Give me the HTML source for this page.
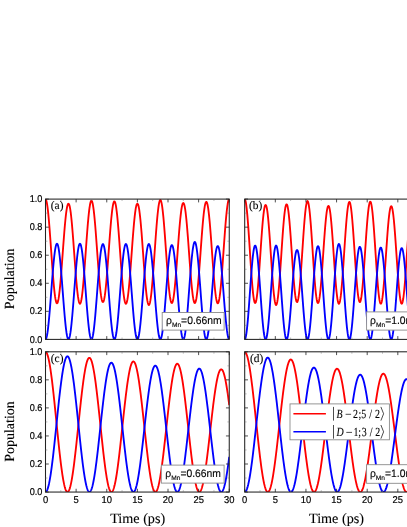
<!DOCTYPE html>
<html><head><meta charset="utf-8"><title>Population dynamics</title><style>
html,body{margin:0;padding:0;background:#fff;}
body{width:407px;height:527px;overflow:hidden;}
svg{display:block;will-change:transform;text-rendering:geometricPrecision;}
text{font-family:"Liberation Sans",sans-serif;fill:#000;stroke:#000;stroke-width:0.2px;}
.s{font-family:"Liberation Serif",serif;stroke-width:0.1px;}
.r{stroke-width:0.12px;}
</style></head><body>
<svg width="407" height="527" viewBox="0 0 407 527">
<rect width="407" height="527" fill="#fff"/>

<clipPath id="ca"><rect x="45.5" y="199.1" width="183.75" height="140.29999999999998"/></clipPath>
<g clip-path="url(#ca)" fill="none" stroke-width="1.85" stroke-linejoin="round">
<path d="M45.50,199.10 L45.88,199.46 L46.27,200.39 L46.65,201.88 L47.03,203.90 L47.41,206.44 L47.80,209.47 L48.18,212.96 L48.56,216.86 L48.95,221.14 L49.33,225.74 L49.71,230.62 L50.09,235.72 L50.48,240.99 L50.86,246.37 L51.24,251.80 L51.62,257.22 L52.01,262.58 L52.39,267.81 L52.77,272.86 L53.16,277.67 L53.54,282.19 L53.92,286.38 L54.30,290.18 L54.69,293.57 L55.07,296.49 L55.45,298.92 L55.84,300.84 L56.22,302.23 L56.60,303.06 L56.98,303.34 L57.37,303.07 L57.75,302.24 L58.13,300.87 L58.52,298.98 L58.90,296.57 L59.28,293.69 L59.66,290.36 L60.05,286.63 L60.43,282.53 L60.81,278.11 L61.20,273.41 L61.58,268.50 L61.96,263.43 L62.34,258.24 L62.73,253.01 L63.11,247.78 L63.49,242.62 L63.88,237.58 L64.26,232.72 L64.64,228.09 L65.02,223.74 L65.41,219.72 L65.79,216.07 L66.17,212.84 L66.55,210.05 L66.94,207.75 L67.32,205.95 L67.70,204.67 L68.09,203.93 L68.47,203.73 L68.85,203.95 L69.23,204.72 L69.62,206.02 L70.00,207.85 L70.38,210.18 L70.77,212.99 L71.15,216.24 L71.53,219.91 L71.91,223.95 L72.30,228.32 L72.68,232.97 L73.06,237.84 L73.45,242.90 L73.83,248.07 L74.21,253.31 L74.59,258.55 L74.98,263.74 L75.36,268.83 L75.74,273.75 L76.12,278.45 L76.51,282.87 L76.89,286.98 L77.27,290.72 L77.66,294.06 L78.04,296.94 L78.42,299.35 L78.80,301.26 L79.19,302.64 L79.57,303.48 L79.95,303.76 L80.34,303.46 L80.72,302.60 L81.10,301.19 L81.48,299.26 L81.87,296.81 L82.25,293.88 L82.63,290.50 L83.02,286.70 L83.40,282.53 L83.78,278.03 L84.16,273.25 L84.55,268.24 L84.93,263.05 L85.31,257.74 L85.70,252.38 L86.08,247.01 L86.46,241.70 L86.84,236.50 L87.23,231.47 L87.61,226.67 L87.99,222.14 L88.38,217.94 L88.76,214.12 L89.14,210.71 L89.52,207.74 L89.91,205.27 L90.29,203.30 L90.67,201.86 L91.05,200.97 L91.44,200.64 L91.82,200.94 L92.20,201.78 L92.59,203.18 L92.97,205.10 L93.35,207.54 L93.73,210.46 L94.12,213.82 L94.50,217.60 L94.88,221.76 L95.27,226.23 L95.65,230.98 L96.03,235.96 L96.41,241.10 L96.80,246.35 L97.18,251.66 L97.56,256.96 L97.95,262.21 L98.33,267.33 L98.71,272.27 L99.09,276.99 L99.48,281.42 L99.86,285.53 L100.24,289.26 L100.62,292.57 L101.01,295.44 L101.39,297.82 L101.77,299.69 L102.16,301.03 L102.54,301.83 L102.92,302.08 L103.30,301.83 L103.69,301.03 L104.07,299.69 L104.45,297.82 L104.84,295.44 L105.22,292.59 L105.60,289.28 L105.98,285.56 L106.37,281.47 L106.75,277.05 L107.13,272.35 L107.52,267.42 L107.90,262.33 L108.28,257.11 L108.66,251.84 L109.05,246.56 L109.43,241.34 L109.81,236.23 L110.20,231.29 L110.58,226.58 L110.96,222.15 L111.34,218.03 L111.73,214.29 L112.11,210.97 L112.49,208.09 L112.88,205.69 L113.26,203.79 L113.64,202.43 L114.02,201.61 L114.41,201.34 L114.79,201.66 L115.17,202.53 L115.55,203.95 L115.94,205.89 L116.32,208.34 L116.70,211.28 L117.09,214.66 L117.47,218.45 L117.85,222.62 L118.23,227.11 L118.62,231.87 L119.00,236.87 L119.38,242.03 L119.77,247.31 L120.15,252.64 L120.53,257.97 L120.91,263.25 L121.30,268.41 L121.68,273.39 L122.06,278.15 L122.45,282.63 L122.83,286.78 L123.21,290.56 L123.59,293.92 L123.98,296.84 L124.36,299.27 L124.74,301.20 L125.12,302.60 L125.51,303.46 L125.89,303.76 L126.27,303.51 L126.66,302.70 L127.04,301.35 L127.42,299.48 L127.80,297.09 L128.19,294.23 L128.57,290.93 L128.95,287.21 L129.34,283.12 L129.72,278.71 L130.10,274.03 L130.48,269.12 L130.87,264.04 L131.25,258.85 L131.63,253.61 L132.02,248.36 L132.40,243.18 L132.78,238.11 L133.16,233.21 L133.55,228.55 L133.93,224.15 L134.31,220.09 L134.70,216.40 L135.08,213.11 L135.46,210.28 L135.84,207.93 L136.23,206.08 L136.61,204.75 L136.99,203.97 L137.38,203.73 L137.76,203.94 L138.14,204.71 L138.52,206.01 L138.91,207.84 L139.29,210.19 L139.67,213.01 L140.05,216.29 L140.44,219.99 L140.82,224.07 L141.20,228.48 L141.59,233.17 L141.97,238.10 L142.35,243.21 L142.73,248.45 L143.12,253.75 L143.50,259.06 L143.88,264.32 L144.27,269.47 L144.65,274.46 L145.03,279.23 L145.41,283.72 L145.80,287.90 L146.18,291.70 L146.56,295.09 L146.95,298.04 L147.33,300.50 L147.71,302.44 L148.09,303.86 L148.48,304.72 L148.86,305.03 L149.24,304.71 L149.62,303.83 L150.01,302.40 L150.39,300.43 L150.77,297.94 L151.16,294.96 L151.54,291.52 L151.92,287.65 L152.30,283.41 L152.69,278.83 L153.07,273.96 L153.45,268.86 L153.84,263.58 L154.22,258.18 L154.60,252.71 L154.98,247.25 L155.37,241.84 L155.75,236.54 L156.13,231.42 L156.52,226.52 L156.90,221.91 L157.28,217.63 L157.66,213.73 L158.05,210.24 L158.43,207.22 L158.81,204.69 L159.20,202.68 L159.58,201.20 L159.96,200.29 L160.34,199.94 L160.73,200.28 L161.11,201.18 L161.49,202.64 L161.88,204.63 L162.26,207.14 L162.64,210.14 L163.02,213.60 L163.41,217.46 L163.79,221.70 L164.17,226.27 L164.55,231.11 L164.94,236.18 L165.32,241.41 L165.70,246.74 L166.09,252.13 L166.47,257.51 L166.85,262.83 L167.23,268.01 L167.62,273.02 L168.00,277.78 L168.38,282.26 L168.77,286.41 L169.15,290.17 L169.53,293.51 L169.91,296.39 L170.30,298.79 L170.68,300.67 L171.06,302.02 L171.45,302.82 L171.83,303.06 L172.21,302.78 L172.59,301.95 L172.98,300.58 L173.36,298.68 L173.74,296.28 L174.12,293.39 L174.51,290.06 L174.89,286.33 L175.27,282.22 L175.66,277.80 L176.04,273.10 L176.42,268.18 L176.80,263.10 L177.19,257.91 L177.57,252.66 L177.95,247.42 L178.34,242.24 L178.72,237.19 L179.10,232.30 L179.48,227.65 L179.87,223.28 L180.25,219.23 L180.63,215.56 L181.02,212.30 L181.40,209.49 L181.78,207.16 L182.16,205.33 L182.55,204.02 L182.93,203.25 L183.31,203.03 L183.70,203.28 L184.08,204.08 L184.46,205.42 L184.84,207.28 L185.23,209.64 L185.61,212.48 L185.99,215.76 L186.38,219.45 L186.76,223.51 L187.14,227.90 L187.52,232.56 L187.91,237.44 L188.29,242.50 L188.67,247.67 L189.05,252.91 L189.44,258.14 L189.82,263.32 L190.20,268.39 L190.59,273.28 L190.97,277.96 L191.35,282.36 L191.73,286.45 L192.12,290.16 L192.50,293.47 L192.88,296.33 L193.27,298.72 L193.65,300.60 L194.03,301.96 L194.41,302.79 L194.80,303.06 L195.18,302.79 L195.56,301.97 L195.95,300.61 L196.33,298.73 L196.71,296.34 L197.09,293.47 L197.48,290.15 L197.86,286.43 L198.24,282.33 L198.62,277.90 L199.01,273.20 L199.39,268.27 L199.77,263.16 L200.16,257.94 L200.54,252.66 L200.92,247.38 L201.30,242.15 L201.69,237.03 L202.07,232.08 L202.45,227.36 L202.84,222.91 L203.22,218.78 L203.60,215.03 L203.98,211.68 L204.37,208.78 L204.75,206.36 L205.13,204.44 L205.52,203.05 L205.90,202.20 L206.28,201.91 L206.66,202.14 L207.05,202.92 L207.43,204.25 L207.81,206.11 L208.20,208.47 L208.58,211.33 L208.96,214.63 L209.34,218.36 L209.73,222.46 L210.11,226.89 L210.49,231.61 L210.88,236.56 L211.26,241.68 L211.64,246.93 L212.02,252.24 L212.41,257.55 L212.79,262.82 L213.17,267.97 L213.55,272.95 L213.94,277.71 L214.32,282.20 L214.70,286.36 L215.09,290.15 L215.47,293.52 L215.85,296.45 L216.23,298.89 L216.62,300.82 L217.00,302.21 L217.38,303.06 L217.77,303.34 L218.15,303.07 L218.53,302.23 L218.91,300.84 L219.30,298.91 L219.68,296.46 L220.06,293.52 L220.45,290.12 L220.83,286.30 L221.21,282.09 L221.59,277.55 L221.98,272.72 L222.36,267.66 L222.74,262.41 L223.12,257.04 L223.51,251.61 L223.89,246.17 L224.27,240.78 L224.66,235.51 L225.04,230.41 L225.42,225.53 L225.80,220.94 L226.19,216.67 L226.57,212.79 L226.95,209.32 L227.34,206.31 L227.72,203.79 L228.10,201.79 L228.48,200.33 L228.87,199.43 L229.25,199.10" stroke="#ff0000"/>
<path d="M45.50,339.40 L45.88,339.14 L46.27,338.35 L46.65,337.06 L47.03,335.26 L47.41,332.99 L47.80,330.26 L48.18,327.11 L48.56,323.57 L48.95,319.68 L49.33,315.48 L49.71,311.02 L50.09,306.34 L50.48,301.50 L50.86,296.56 L51.24,291.56 L51.62,286.56 L52.01,281.61 L52.39,276.77 L52.77,272.10 L53.16,267.64 L53.54,263.44 L53.92,259.54 L54.30,256.00 L54.69,252.85 L55.07,250.13 L55.45,247.85 L55.84,246.06 L56.22,244.76 L56.60,243.98 L56.98,243.72 L57.37,243.98 L57.75,244.76 L58.13,246.06 L58.52,247.85 L58.90,250.13 L59.28,252.85 L59.66,256.00 L60.05,259.54 L60.43,263.44 L60.81,267.64 L61.20,272.10 L61.58,276.77 L61.96,281.61 L62.34,286.56 L62.73,291.56 L63.11,296.56 L63.49,301.50 L63.88,306.34 L64.26,311.02 L64.64,315.48 L65.02,319.68 L65.41,323.57 L65.79,327.11 L66.17,330.26 L66.55,332.99 L66.94,335.26 L67.32,337.06 L67.70,338.35 L68.09,339.14 L68.47,339.40 L68.85,339.14 L69.23,338.35 L69.62,337.06 L70.00,335.26 L70.38,332.99 L70.77,330.26 L71.15,327.11 L71.53,323.57 L71.91,319.68 L72.30,315.48 L72.68,311.02 L73.06,306.34 L73.45,301.50 L73.83,296.56 L74.21,291.56 L74.59,286.56 L74.98,281.61 L75.36,276.77 L75.74,272.10 L76.12,267.64 L76.51,263.44 L76.89,259.54 L77.27,256.00 L77.66,252.85 L78.04,250.13 L78.42,247.85 L78.80,246.06 L79.19,244.76 L79.57,243.98 L79.95,243.72 L80.34,243.98 L80.72,244.77 L81.10,246.08 L81.48,247.88 L81.87,250.16 L82.25,252.89 L82.63,256.05 L83.02,259.59 L83.40,263.49 L83.78,267.69 L84.16,272.15 L84.55,276.83 L84.93,281.67 L85.31,286.61 L85.70,291.61 L86.08,296.61 L86.46,301.55 L86.84,306.39 L87.23,311.06 L87.61,315.51 L87.99,319.71 L88.38,323.60 L88.76,327.13 L89.14,330.28 L89.52,333.00 L89.91,335.27 L90.29,337.06 L90.67,338.36 L91.05,339.14 L91.44,339.40 L91.82,339.14 L92.20,338.36 L92.59,337.06 L92.97,335.27 L93.35,333.01 L93.73,330.29 L94.12,327.14 L94.50,323.61 L94.88,319.74 L95.27,315.55 L95.65,311.10 L96.03,306.44 L96.41,301.62 L96.80,296.70 L97.18,291.72 L97.56,286.74 L97.95,281.81 L98.33,276.99 L98.71,272.34 L99.09,267.90 L99.48,263.72 L99.86,259.85 L100.24,256.33 L100.62,253.20 L101.01,250.49 L101.39,248.23 L101.77,246.45 L102.16,245.16 L102.54,244.39 L102.92,244.14 L103.30,244.39 L103.69,245.17 L104.07,246.46 L104.45,248.25 L104.84,250.51 L105.22,253.22 L105.60,256.36 L105.98,259.88 L106.37,263.75 L106.75,267.93 L107.13,272.38 L107.52,277.03 L107.90,281.85 L108.28,286.77 L108.66,291.75 L109.05,296.73 L109.43,301.66 L109.81,306.47 L110.20,311.13 L110.58,315.57 L110.96,319.76 L111.34,323.63 L111.73,327.16 L112.11,330.30 L112.49,333.01 L112.88,335.28 L113.26,337.07 L113.64,338.36 L114.02,339.14 L114.41,339.40 L114.79,339.14 L115.17,338.36 L115.55,337.07 L115.94,335.28 L116.32,333.01 L116.70,330.30 L117.09,327.15 L117.47,323.63 L117.85,319.75 L118.23,315.56 L118.62,311.11 L119.00,306.45 L119.38,301.63 L119.77,296.70 L120.15,291.72 L120.53,286.73 L120.91,281.80 L121.30,276.98 L121.68,272.31 L122.06,267.86 L122.45,263.68 L122.83,259.79 L123.21,256.26 L123.59,253.12 L123.98,250.40 L124.36,248.13 L124.74,246.34 L125.12,245.04 L125.51,244.26 L125.89,244.00 L126.27,244.26 L126.66,245.04 L127.04,246.33 L127.42,248.12 L127.80,250.39 L128.19,253.11 L128.57,256.25 L128.95,259.78 L129.34,263.66 L129.72,267.85 L130.10,272.30 L130.48,276.96 L130.87,281.78 L131.25,286.71 L131.63,291.70 L132.02,296.68 L132.40,301.62 L132.78,306.44 L133.16,311.10 L133.55,315.55 L133.93,319.74 L134.31,323.62 L134.70,327.15 L135.08,330.29 L135.46,333.01 L135.84,335.28 L136.23,337.07 L136.61,338.36 L136.99,339.14 L137.38,339.40 L137.76,339.14 L138.14,338.36 L138.52,337.07 L138.91,335.28 L139.29,333.01 L139.67,330.29 L140.05,327.15 L140.44,323.62 L140.82,319.74 L141.20,315.55 L141.59,311.10 L141.97,306.44 L142.35,301.62 L142.73,296.68 L143.12,291.70 L143.50,286.71 L143.88,281.78 L144.27,276.96 L144.65,272.30 L145.03,267.85 L145.41,263.66 L145.80,259.78 L146.18,256.25 L146.56,253.11 L146.95,250.39 L147.33,248.12 L147.71,246.33 L148.09,245.04 L148.48,244.26 L148.86,244.00 L149.24,244.28 L149.62,245.08 L150.01,246.39 L150.39,248.19 L150.77,250.47 L151.16,253.21 L151.54,256.36 L151.92,259.90 L152.30,263.79 L152.69,267.99 L153.07,272.44 L153.45,277.10 L153.84,281.93 L154.22,286.86 L154.60,291.84 L154.98,296.82 L155.37,301.74 L155.75,306.56 L156.13,311.21 L156.52,315.64 L156.90,319.82 L157.28,323.68 L157.66,327.20 L158.05,330.33 L158.43,333.04 L158.81,335.30 L159.20,337.08 L159.58,338.36 L159.96,339.14 L160.34,339.40 L160.73,339.14 L161.11,338.36 L161.49,337.08 L161.88,335.30 L162.26,333.05 L162.64,330.35 L163.02,327.24 L163.41,323.73 L163.79,319.89 L164.17,315.74 L164.55,311.33 L164.94,306.71 L165.32,301.93 L165.70,297.05 L166.09,292.12 L166.47,287.19 L166.85,282.31 L167.23,277.54 L167.62,272.94 L168.00,268.55 L168.38,264.42 L168.77,260.59 L169.15,257.11 L169.53,254.02 L169.91,251.35 L170.30,249.12 L170.68,247.37 L171.06,246.11 L171.45,245.36 L171.83,245.12 L172.21,245.32 L172.59,246.04 L172.98,247.27 L173.36,248.99 L173.74,251.18 L174.12,253.83 L174.51,256.90 L174.89,260.36 L175.27,264.17 L175.66,268.29 L176.04,272.67 L176.42,277.27 L176.80,282.04 L177.19,286.92 L177.57,291.86 L177.95,296.80 L178.34,301.70 L178.72,306.49 L179.10,311.13 L179.48,315.56 L179.87,319.74 L180.25,323.61 L180.63,327.13 L181.02,330.27 L181.40,332.99 L181.78,335.26 L182.16,337.06 L182.55,338.35 L182.93,339.14 L183.31,339.40 L183.70,339.14 L184.08,338.35 L184.46,337.05 L184.84,335.25 L185.23,332.96 L185.61,330.21 L185.99,327.04 L186.38,323.46 L186.76,319.54 L187.14,315.29 L187.52,310.78 L187.91,306.05 L188.29,301.14 L188.67,296.13 L189.05,291.05 L189.44,285.97 L189.82,280.93 L190.20,276.00 L190.59,271.23 L190.97,266.67 L191.35,262.37 L191.73,258.38 L192.12,254.74 L192.50,251.49 L192.88,248.67 L193.27,246.31 L193.65,244.44 L194.03,243.06 L194.41,242.21 L194.80,241.89 L195.18,242.23 L195.56,243.10 L195.95,244.48 L196.33,246.37 L196.71,248.75 L197.09,251.58 L197.48,254.84 L197.86,258.49 L198.24,262.49 L198.62,266.79 L199.01,271.36 L199.39,276.13 L199.77,281.06 L200.16,286.09 L200.54,291.17 L200.92,296.24 L201.30,301.25 L201.69,306.15 L202.07,310.87 L202.45,315.37 L202.84,319.61 L203.22,323.52 L203.60,327.08 L203.98,330.25 L204.37,332.99 L204.75,335.26 L205.13,337.06 L205.52,338.36 L205.90,339.14 L206.28,339.40 L206.66,339.14 L207.05,338.36 L207.43,337.07 L207.81,335.29 L208.20,333.03 L208.58,330.33 L208.96,327.21 L209.34,323.71 L209.73,319.87 L210.11,315.72 L210.49,311.33 L210.88,306.73 L211.26,301.98 L211.64,297.12 L212.02,292.22 L212.41,287.33 L212.79,282.50 L213.17,277.78 L213.55,273.23 L213.94,268.90 L214.32,264.83 L214.70,261.07 L215.09,257.65 L215.47,254.63 L215.85,252.02 L216.23,249.87 L216.62,248.18 L217.00,246.98 L217.38,246.29 L217.77,246.10 L218.15,246.34 L218.53,247.10 L218.91,248.35 L219.30,250.09 L219.68,252.30 L220.06,254.95 L220.45,258.01 L220.83,261.46 L221.21,265.25 L221.59,269.34 L221.98,273.69 L222.36,278.24 L222.74,282.96 L223.12,287.78 L223.51,292.66 L223.89,297.54 L224.27,302.37 L224.66,307.09 L225.04,311.66 L225.42,316.02 L225.80,320.12 L226.19,323.92 L226.57,327.38 L226.95,330.46 L227.34,333.13 L227.72,335.35 L228.10,337.11 L228.48,338.38 L228.87,339.14 L229.25,339.40" stroke="#0000ff"/>
</g>
<rect x="45.5" y="199.1" width="183.75" height="140.30" fill="none" stroke="#222" stroke-width="1.05"/>
<path d="M45.50,199.1 v3.3 M45.50,339.4 v-3.3 M76.12,199.1 v3.3 M76.12,339.4 v-3.3 M106.75,199.1 v3.3 M106.75,339.4 v-3.3 M137.38,199.1 v3.3 M137.38,339.4 v-3.3 M168.00,199.1 v3.3 M168.00,339.4 v-3.3 M198.62,199.1 v3.3 M198.62,339.4 v-3.3 M229.25,199.1 v3.3 M229.25,339.4 v-3.3 M45.5,339.40 h3.3 M229.25,339.40 h-3.3 M45.5,311.34 h3.3 M229.25,311.34 h-3.3 M45.5,283.28 h3.3 M229.25,283.28 h-3.3 M45.5,255.22 h3.3 M229.25,255.22 h-3.3 M45.5,227.16 h3.3 M229.25,227.16 h-3.3 M45.5,199.10 h3.3 M229.25,199.10 h-3.3" stroke="#222" stroke-width="0.8" fill="none"/>
<path d="M60.81,199.1 v1.9 M60.81,339.4 v-1.9 M91.44,199.1 v1.9 M91.44,339.4 v-1.9 M122.06,199.1 v1.9 M122.06,339.4 v-1.9 M152.69,199.1 v1.9 M152.69,339.4 v-1.9 M183.31,199.1 v1.9 M183.31,339.4 v-1.9 M213.94,199.1 v1.9 M213.94,339.4 v-1.9 M45.5,325.37 h1.9 M229.25,325.37 h-1.9 M45.5,297.31 h1.9 M229.25,297.31 h-1.9 M45.5,269.25 h1.9 M229.25,269.25 h-1.9 M45.5,241.19 h1.9 M229.25,241.19 h-1.9 M45.5,213.13 h1.9 M229.25,213.13 h-1.9" stroke="#777" stroke-width="0.5" fill="none"/>
<text class="s" x="50.80" y="209.40" font-size="11.4">(a)</text>
<text transform="translate(42.40,342.50) scale(0.925,1)" font-size="9.9" text-anchor="end">0.0</text>
<text transform="translate(42.40,314.44) scale(0.925,1)" font-size="9.9" text-anchor="end">0.2</text>
<text transform="translate(42.40,286.38) scale(0.925,1)" font-size="9.9" text-anchor="end">0.4</text>
<text transform="translate(42.40,258.32) scale(0.925,1)" font-size="9.9" text-anchor="end">0.6</text>
<text transform="translate(42.40,230.26) scale(0.925,1)" font-size="9.9" text-anchor="end">0.8</text>
<text transform="translate(42.40,202.20) scale(0.925,1)" font-size="9.9" text-anchor="end">1.0</text>
<clipPath id="cb"><rect x="244.7" y="199.1" width="183.75" height="140.29999999999998"/></clipPath>
<g clip-path="url(#cb)" fill="none" stroke-width="1.85" stroke-linejoin="round">
<path d="M244.70,199.10 L245.08,199.55 L245.47,200.68 L245.85,202.47 L246.23,204.90 L246.61,207.94 L247.00,211.54 L247.38,215.66 L247.76,220.25 L248.15,225.23 L248.53,230.56 L248.91,236.14 L249.29,241.93 L249.68,247.83 L250.06,253.77 L250.44,259.67 L250.82,265.45 L251.21,271.05 L251.59,276.38 L251.97,281.39 L252.36,285.99 L252.74,290.14 L253.12,293.79 L253.50,296.87 L253.89,299.37 L254.27,301.24 L254.65,302.46 L255.04,303.02 L255.42,302.94 L255.80,302.21 L256.18,300.83 L256.57,298.81 L256.95,296.20 L257.33,293.01 L257.72,289.31 L258.10,285.13 L258.48,280.53 L258.86,275.58 L259.25,270.34 L259.63,264.89 L260.01,259.29 L260.40,253.63 L260.78,247.97 L261.16,242.39 L261.54,236.97 L261.93,231.78 L262.31,226.89 L262.69,222.36 L263.07,218.25 L263.46,214.63 L263.84,211.52 L264.22,208.99 L264.61,207.05 L264.99,205.74 L265.37,205.07 L265.75,205.02 L266.14,205.54 L266.52,206.70 L266.90,208.50 L267.29,210.90 L267.67,213.89 L268.05,217.41 L268.43,221.43 L268.82,225.89 L269.20,230.73 L269.58,235.90 L269.97,241.31 L270.35,246.91 L270.73,252.61 L271.11,258.35 L271.50,264.04 L271.88,269.62 L272.26,275.00 L272.65,280.13 L273.03,284.92 L273.41,289.32 L273.79,293.27 L274.18,296.71 L274.56,299.60 L274.94,301.91 L275.32,303.59 L275.71,304.64 L276.09,305.03 L276.47,304.66 L276.86,303.64 L277.24,301.98 L277.62,299.69 L278.00,296.82 L278.39,293.39 L278.77,289.45 L279.15,285.06 L279.54,280.27 L279.92,275.14 L280.30,269.74 L280.68,264.15 L281.07,258.44 L281.45,252.67 L281.83,246.93 L282.22,241.30 L282.60,235.84 L282.98,230.63 L283.36,225.73 L283.75,221.22 L284.13,217.14 L284.51,213.55 L284.90,210.50 L285.28,208.03 L285.66,206.16 L286.04,204.93 L286.43,204.34 L286.81,204.38 L287.19,205.06 L287.57,206.37 L287.96,208.32 L288.34,210.86 L288.72,213.97 L289.11,217.60 L289.49,221.70 L289.87,226.23 L290.25,231.11 L290.64,236.29 L291.02,241.69 L291.40,247.24 L291.79,252.88 L292.17,258.52 L292.55,264.09 L292.93,269.51 L293.32,274.72 L293.70,279.64 L294.08,284.20 L294.47,288.36 L294.85,292.04 L295.23,295.21 L295.61,297.81 L296.00,299.82 L296.38,301.21 L296.76,301.95 L297.15,302.06 L297.53,301.57 L297.91,300.42 L298.29,298.64 L298.68,296.25 L299.06,293.27 L299.44,289.75 L299.82,285.72 L300.21,281.25 L300.59,276.39 L300.97,271.20 L301.36,265.75 L301.74,260.12 L302.12,254.37 L302.50,248.58 L302.89,242.83 L303.27,237.19 L303.65,231.74 L304.04,226.55 L304.42,221.68 L304.80,217.21 L305.18,213.20 L305.57,209.68 L305.95,206.72 L306.33,204.35 L306.72,202.60 L307.10,201.51 L307.48,201.07 L307.86,201.44 L308.25,202.49 L308.63,204.18 L309.01,206.51 L309.40,209.42 L309.78,212.90 L310.16,216.89 L310.54,221.34 L310.93,226.19 L311.31,231.38 L311.69,236.84 L312.07,242.49 L312.46,248.27 L312.84,254.09 L313.22,259.89 L313.61,265.58 L313.99,271.10 L314.37,276.36 L314.75,281.31 L315.14,285.87 L315.52,290.00 L315.90,293.63 L316.29,296.72 L316.67,299.23 L317.05,301.12 L317.43,302.39 L317.82,303.00 L318.20,302.95 L318.58,302.25 L318.97,300.91 L319.35,298.94 L319.73,296.38 L320.11,293.25 L320.50,289.61 L320.88,285.50 L321.26,280.98 L321.65,276.10 L322.03,270.94 L322.41,265.56 L322.79,260.04 L323.18,254.44 L323.56,248.85 L323.94,243.33 L324.32,237.97 L324.71,232.82 L325.09,227.97 L325.47,223.47 L325.86,219.38 L326.24,215.76 L326.62,212.66 L327.00,210.11 L327.39,208.15 L327.77,206.80 L328.15,206.09 L328.54,205.98 L328.92,206.38 L329.30,207.43 L329.68,209.10 L330.07,211.37 L330.45,214.22 L330.83,217.60 L331.22,221.48 L331.60,225.80 L331.98,230.50 L332.36,235.53 L332.75,240.82 L333.13,246.29 L333.51,251.89 L333.90,257.52 L334.28,263.12 L334.66,268.61 L335.04,273.92 L335.43,278.98 L335.81,283.72 L336.19,288.08 L336.57,292.00 L336.96,295.42 L337.34,298.31 L337.72,300.61 L338.11,302.30 L338.49,303.35 L338.87,303.76 L339.25,303.47 L339.64,302.51 L340.02,300.92 L340.40,298.70 L340.79,295.88 L341.17,292.50 L341.55,288.61 L341.93,284.25 L342.32,279.48 L342.70,274.36 L343.08,268.96 L343.47,263.35 L343.85,257.60 L344.23,251.78 L344.61,245.98 L345.00,240.27 L345.38,234.72 L345.76,229.40 L346.15,224.40 L346.53,219.76 L346.91,215.55 L347.29,211.84 L347.68,208.65 L348.06,206.05 L348.44,204.06 L348.82,202.70 L349.21,202.00 L349.59,202.01 L349.97,202.71 L350.36,204.06 L350.74,206.05 L351.12,208.65 L351.50,211.82 L351.89,215.53 L352.27,219.72 L352.65,224.33 L353.04,229.31 L353.42,234.60 L353.80,240.11 L354.18,245.77 L354.57,251.52 L354.95,257.28 L355.33,262.96 L355.72,268.50 L356.10,273.82 L356.48,278.85 L356.86,283.53 L357.25,287.78 L357.63,291.57 L358.01,294.83 L358.40,297.53 L358.78,299.62 L359.16,301.08 L359.54,301.90 L359.93,302.07 L360.31,301.63 L360.69,300.53 L361.07,298.79 L361.46,296.43 L361.84,293.48 L362.22,289.99 L362.61,285.99 L362.99,281.54 L363.37,276.69 L363.75,271.52 L364.14,266.09 L364.52,260.47 L364.90,254.73 L365.29,248.96 L365.67,243.22 L366.05,237.59 L366.43,232.16 L366.82,226.98 L367.20,222.13 L367.58,217.68 L367.97,213.67 L368.35,210.18 L368.73,207.23 L369.11,204.87 L369.50,203.14 L369.88,202.06 L370.26,201.63 L370.65,201.95 L371.03,202.95 L371.41,204.60 L371.79,206.87 L372.18,209.75 L372.56,213.18 L372.94,217.14 L373.32,221.55 L373.71,226.37 L374.09,231.54 L374.47,236.98 L374.86,242.62 L375.24,248.40 L375.62,254.23 L376.00,260.04 L376.39,265.75 L376.77,271.29 L377.15,276.58 L377.54,281.57 L377.92,286.17 L378.30,290.34 L378.68,294.02 L379.07,297.17 L379.45,299.73 L379.83,301.69 L380.22,303.01 L380.60,303.68 L380.98,303.67 L381.36,303.00 L381.75,301.68 L382.13,299.73 L382.51,297.19 L382.90,294.08 L383.28,290.45 L383.66,286.34 L384.04,281.82 L384.43,276.95 L384.81,271.78 L385.19,266.39 L385.57,260.85 L385.96,255.24 L386.34,249.63 L386.72,244.09 L387.11,238.69 L387.49,233.52 L387.87,228.63 L388.25,224.09 L388.64,219.96 L389.02,216.30 L389.40,213.15 L389.79,210.56 L390.17,208.55 L390.55,207.16 L390.93,206.40 L391.32,206.26 L391.70,206.64 L392.08,207.67 L392.47,209.32 L392.85,211.57 L393.23,214.39 L393.61,217.76 L394.00,221.62 L394.38,225.92 L394.76,230.60 L395.15,235.61 L395.53,240.88 L395.91,246.33 L396.29,251.90 L396.68,257.52 L397.06,263.10 L397.44,268.57 L397.82,273.87 L398.21,278.92 L398.59,283.65 L398.97,288.00 L399.36,291.92 L399.74,295.34 L400.12,298.23 L400.50,300.54 L400.89,302.25 L401.27,303.33 L401.65,303.76 L402.04,303.53 L402.42,302.66 L402.80,301.14 L403.18,299.01 L403.57,296.28 L403.95,292.99 L404.33,289.18 L404.72,284.91 L405.10,280.23 L405.48,275.19 L405.86,269.88 L406.25,264.34 L406.63,258.67 L407.01,252.92 L407.40,247.18 L407.78,241.53 L408.16,236.03 L408.54,230.75 L408.93,225.78 L409.31,221.17 L409.69,216.99 L410.07,213.28 L410.46,210.11 L410.84,207.50 L411.22,205.50 L411.61,204.14 L411.99,203.42 L412.37,203.39 L412.75,204.05 L413.14,205.36 L413.52,207.30 L413.90,209.86 L414.29,212.99 L414.67,216.65 L415.05,220.80 L415.43,225.38 L415.82,230.33 L416.20,235.58 L416.58,241.07 L416.97,246.73 L417.35,252.47 L417.73,258.23 L418.11,263.92 L418.50,269.47 L418.88,274.82 L419.26,279.88 L419.65,284.60 L420.03,288.90 L420.41,292.74 L420.79,296.05 L421.18,298.81 L421.56,300.97 L421.94,302.50 L422.32,303.39 L422.71,303.62 L423.09,303.18 L423.47,302.10 L423.86,300.37 L424.24,298.02 L424.62,295.09 L425.00,291.61 L425.39,287.62 L425.77,283.19 L426.15,278.36 L426.54,273.20 L426.92,267.79 L427.30,262.18 L427.68,256.46 L428.07,250.70 L428.45,244.98" stroke="#ff0000"/>
<path d="M244.70,339.40 L245.08,339.09 L245.47,338.17 L245.85,336.64 L246.23,334.53 L246.61,331.87 L247.00,328.68 L247.38,325.02 L247.76,320.93 L248.15,316.47 L248.53,311.69 L248.91,306.65 L249.29,301.43 L249.68,296.09 L250.06,290.70 L250.44,285.34 L250.82,280.07 L251.21,274.96 L251.59,270.08 L251.97,265.50 L252.36,261.28 L252.74,257.46 L253.12,254.11 L253.50,251.26 L253.89,248.96 L254.27,247.23 L254.65,246.10 L255.04,245.58 L255.42,245.67 L255.80,246.39 L256.18,247.71 L256.57,249.62 L256.95,252.10 L257.33,255.10 L257.72,258.61 L258.10,262.55 L258.48,266.90 L258.86,271.58 L259.25,276.53 L259.63,281.70 L260.01,287.00 L260.40,292.38 L260.78,297.76 L261.16,303.07 L261.54,308.25 L261.93,313.21 L262.31,317.90 L262.69,322.25 L263.07,326.21 L263.46,329.73 L263.84,332.76 L264.22,335.25 L264.61,337.18 L264.99,338.52 L265.37,339.25 L265.75,339.37 L266.14,338.87 L266.52,337.75 L266.90,336.04 L267.29,333.76 L267.67,330.93 L268.05,327.59 L268.43,323.79 L268.82,319.58 L269.20,315.01 L269.58,310.14 L269.97,305.04 L270.35,299.77 L270.73,294.41 L271.11,289.02 L271.50,283.68 L271.88,278.45 L272.26,273.41 L272.65,268.62 L273.03,264.14 L273.41,260.04 L273.79,256.37 L274.18,253.17 L274.56,250.49 L274.94,248.36 L275.32,246.81 L275.71,245.87 L276.09,245.54 L276.47,245.91 L276.86,246.89 L277.24,248.48 L277.62,250.64 L278.00,253.35 L278.39,256.58 L278.77,260.28 L279.15,264.40 L279.54,268.88 L279.92,273.67 L280.30,278.71 L280.68,283.93 L281.07,289.25 L281.45,294.62 L281.83,299.96 L282.22,305.19 L282.60,310.26 L282.98,315.09 L283.36,319.63 L283.75,323.81 L284.13,327.58 L284.51,330.90 L284.90,333.71 L285.28,335.99 L285.66,337.70 L286.04,338.83 L286.43,339.36 L286.81,339.28 L287.19,338.61 L287.57,337.34 L287.96,335.50 L288.34,333.11 L288.72,330.21 L289.11,326.84 L289.49,323.03 L289.87,318.85 L290.25,314.35 L290.64,309.59 L291.02,304.64 L291.40,299.55 L291.79,294.40 L292.17,289.26 L292.55,284.19 L292.93,279.26 L293.32,274.54 L293.70,270.09 L294.08,265.97 L294.47,262.23 L294.85,258.92 L295.23,256.08 L295.61,253.76 L296.00,251.98 L296.38,250.76 L296.76,250.12 L297.15,250.03 L297.53,250.42 L297.91,251.39 L298.29,252.94 L298.68,255.03 L299.06,257.66 L299.44,260.77 L299.82,264.33 L300.21,268.30 L300.59,272.62 L300.97,277.23 L301.36,282.07 L301.74,287.09 L302.12,292.20 L302.50,297.36 L302.89,302.48 L303.27,307.49 L303.65,312.34 L304.04,316.96 L304.42,321.28 L304.80,325.25 L305.18,328.81 L305.57,331.92 L305.95,334.53 L306.33,336.61 L306.72,338.12 L307.10,339.06 L307.48,339.40 L307.86,339.14 L308.25,338.27 L308.63,336.82 L309.01,334.80 L309.40,332.22 L309.78,329.14 L310.16,325.58 L310.54,321.59 L310.93,317.22 L311.31,312.53 L311.69,307.58 L312.07,302.44 L312.46,297.16 L312.84,291.83 L313.22,286.51 L313.61,281.27 L313.99,276.17 L314.37,271.30 L314.75,266.70 L315.14,262.44 L315.52,258.58 L315.90,255.17 L316.29,252.25 L316.67,249.87 L317.05,248.04 L317.43,246.81 L317.82,246.18 L318.20,246.18 L318.58,246.81 L318.97,248.05 L319.35,249.88 L319.73,252.27 L320.11,255.20 L320.50,258.62 L320.88,262.49 L321.26,266.77 L321.65,271.39 L322.03,276.29 L322.41,281.41 L322.79,286.69 L323.18,292.04 L323.56,297.40 L323.94,302.71 L324.32,307.88 L324.71,312.85 L325.09,317.56 L325.47,321.94 L325.86,325.93 L326.24,329.49 L326.62,332.55 L327.00,335.09 L327.39,337.06 L327.77,338.45 L328.15,339.22 L328.54,339.38 L328.92,338.92 L329.30,337.83 L329.68,336.15 L330.07,333.88 L330.45,331.06 L330.83,327.72 L331.22,323.91 L331.60,319.67 L331.98,315.07 L332.36,310.16 L332.75,305.00 L333.13,299.67 L333.51,294.23 L333.90,288.76 L334.28,283.32 L334.66,277.99 L335.04,272.84 L335.43,267.93 L335.81,263.34 L336.19,259.12 L336.57,255.32 L336.96,252.00 L337.34,249.21 L337.72,246.97 L338.11,245.32 L338.49,244.28 L338.87,243.86 L339.25,244.16 L339.64,245.10 L340.02,246.64 L340.40,248.78 L340.79,251.48 L341.17,254.71 L341.55,258.43 L341.93,262.58 L342.32,267.11 L342.70,271.97 L343.08,277.08 L343.47,282.38 L343.85,287.80 L344.23,293.27 L344.61,298.71 L345.00,304.06 L345.38,309.25 L345.76,314.21 L346.15,318.87 L346.53,323.17 L346.91,327.06 L347.29,330.48 L347.68,333.40 L348.06,335.77 L348.44,337.56 L348.82,338.76 L349.21,339.34 L349.59,339.30 L349.97,338.65 L350.36,337.38 L350.74,335.53 L351.12,333.11 L351.50,330.15 L351.89,326.71 L352.27,322.82 L352.65,318.53 L353.04,313.91 L353.42,309.01 L353.80,303.90 L354.18,298.65 L354.57,293.33 L354.95,288.01 L355.33,282.75 L355.72,277.63 L356.10,272.72 L356.48,268.08 L356.86,263.77 L357.25,259.85 L357.63,256.38 L358.01,253.38 L358.40,250.91 L358.78,249.00 L359.16,247.68 L359.54,246.95 L359.93,246.82 L360.31,247.27 L360.69,248.32 L361.07,249.97 L361.46,252.18 L361.84,254.93 L362.22,258.19 L362.61,261.90 L362.99,266.03 L363.37,270.51 L363.75,275.29 L364.14,280.30 L364.52,285.48 L364.90,290.77 L365.29,296.08 L365.67,301.35 L366.05,306.52 L366.43,311.50 L366.82,316.25 L367.20,320.69 L367.58,324.76 L367.97,328.42 L368.35,331.62 L368.73,334.31 L369.11,336.45 L369.50,338.03 L369.88,339.01 L370.26,339.40 L370.65,339.17 L371.03,338.34 L371.41,336.91 L371.79,334.91 L372.18,332.37 L372.56,329.30 L372.94,325.77 L373.32,321.81 L373.71,317.47 L374.09,312.82 L374.47,307.91 L374.86,302.81 L375.24,297.58 L375.62,292.31 L376.00,287.05 L376.39,281.87 L376.77,276.85 L377.15,272.04 L377.54,267.52 L377.92,263.34 L378.30,259.56 L378.68,256.23 L379.07,253.38 L379.45,251.07 L379.83,249.31 L380.22,248.14 L380.60,247.56 L380.98,247.59 L381.36,248.23 L381.75,249.45 L382.13,251.26 L382.51,253.63 L382.90,256.51 L383.28,259.89 L383.66,263.71 L384.04,267.92 L384.43,272.46 L384.81,277.29 L385.19,282.32 L385.57,287.50 L385.96,292.76 L386.34,298.03 L386.72,303.24 L387.11,308.32 L387.49,313.20 L387.87,317.82 L388.25,322.12 L388.64,326.05 L389.02,329.54 L389.40,332.56 L389.79,335.07 L390.17,337.02 L390.55,338.41 L390.93,339.20 L391.32,339.39 L391.70,338.98 L392.08,337.97 L392.47,336.37 L392.85,334.21 L393.23,331.52 L393.61,328.32 L394.00,324.67 L394.38,320.62 L394.76,316.20 L395.15,311.49 L395.53,306.55 L395.91,301.44 L396.29,296.22 L396.68,290.98 L397.06,285.77 L397.44,280.66 L397.82,275.73 L398.21,271.03 L398.59,266.64 L398.97,262.60 L399.36,258.98 L399.74,255.81 L400.12,253.14 L400.50,251.01 L400.89,249.44 L401.27,248.46 L401.65,248.07 L402.04,248.26 L402.42,249.04 L402.80,250.41 L403.18,252.35 L403.57,254.84 L403.95,257.84 L404.33,261.32 L404.72,265.22 L405.10,269.51 L405.48,274.11 L405.86,278.97 L406.25,284.03 L406.63,289.21 L407.01,294.46 L407.40,299.69 L407.78,304.85 L408.16,309.86 L408.54,314.66 L408.93,319.19 L409.31,323.37 L409.69,327.17 L410.07,330.52 L410.46,333.39 L410.84,335.73 L411.22,337.51 L411.61,338.72 L411.99,339.32 L412.37,339.33 L412.75,338.72 L413.14,337.52 L413.52,335.74 L413.90,333.39 L414.29,330.52 L414.67,327.16 L415.05,323.34 L415.43,319.14 L415.82,314.58 L416.20,309.75 L416.58,304.69 L416.97,299.49 L417.35,294.19 L417.73,288.89 L418.11,283.63 L418.50,278.51 L418.88,273.57 L419.26,268.89 L419.65,264.53 L420.03,260.54 L420.41,256.99 L420.79,253.90 L421.18,251.34 L421.56,249.32 L421.94,247.88 L422.32,247.04 L422.71,246.81 L423.09,247.21 L423.47,248.21 L423.86,249.80 L424.24,251.97 L424.62,254.68 L425.00,257.89 L425.39,261.57 L425.77,265.67 L426.15,270.12 L426.54,274.88 L426.92,279.88 L427.30,285.06 L427.68,290.34 L428.07,295.65 L428.45,300.94" stroke="#0000ff"/>
</g>
<rect x="244.7" y="199.1" width="183.75" height="140.30" fill="none" stroke="#222" stroke-width="1.05"/>
<path d="M244.70,199.1 v3.3 M244.70,339.4 v-3.3 M275.32,199.1 v3.3 M275.32,339.4 v-3.3 M305.95,199.1 v3.3 M305.95,339.4 v-3.3 M336.57,199.1 v3.3 M336.57,339.4 v-3.3 M367.20,199.1 v3.3 M367.20,339.4 v-3.3 M397.82,199.1 v3.3 M397.82,339.4 v-3.3 M428.45,199.1 v3.3 M428.45,339.4 v-3.3 M244.7,339.40 h3.3 M428.45,339.40 h-3.3 M244.7,311.34 h3.3 M428.45,311.34 h-3.3 M244.7,283.28 h3.3 M428.45,283.28 h-3.3 M244.7,255.22 h3.3 M428.45,255.22 h-3.3 M244.7,227.16 h3.3 M428.45,227.16 h-3.3 M244.7,199.10 h3.3 M428.45,199.10 h-3.3" stroke="#222" stroke-width="0.8" fill="none"/>
<path d="M260.01,199.1 v1.9 M260.01,339.4 v-1.9 M290.64,199.1 v1.9 M290.64,339.4 v-1.9 M321.26,199.1 v1.9 M321.26,339.4 v-1.9 M351.89,199.1 v1.9 M351.89,339.4 v-1.9 M382.51,199.1 v1.9 M382.51,339.4 v-1.9 M413.14,199.1 v1.9 M413.14,339.4 v-1.9 M244.7,325.37 h1.9 M428.45,325.37 h-1.9 M244.7,297.31 h1.9 M428.45,297.31 h-1.9 M244.7,269.25 h1.9 M428.45,269.25 h-1.9 M244.7,241.19 h1.9 M428.45,241.19 h-1.9 M244.7,213.13 h1.9 M428.45,213.13 h-1.9" stroke="#777" stroke-width="0.5" fill="none"/>
<text class="s" x="248.90" y="209.40" font-size="11.4">(b)</text>
<clipPath id="cc"><rect x="45.5" y="351.8" width="183.75" height="140.25"/></clipPath>
<g clip-path="url(#cc)" fill="none" stroke-width="1.85" stroke-linejoin="round">
<path d="M45.50,351.80 L45.88,351.96 L46.27,352.32 L46.65,352.90 L47.03,353.68 L47.41,354.67 L47.80,355.85 L48.18,357.24 L48.56,358.82 L48.95,360.58 L49.33,362.53 L49.71,364.66 L50.09,366.95 L50.48,369.41 L50.86,372.03 L51.24,374.80 L51.62,377.70 L52.01,380.74 L52.39,383.90 L52.77,387.17 L53.16,390.55 L53.54,394.02 L53.92,397.57 L54.30,401.19 L54.69,404.88 L55.07,408.61 L55.45,412.38 L55.84,416.18 L56.22,420.00 L56.60,423.83 L56.98,427.64 L57.37,431.44 L57.75,435.21 L58.13,438.94 L58.52,442.62 L58.90,446.24 L59.28,449.78 L59.66,453.24 L60.05,456.61 L60.43,459.87 L60.81,463.02 L61.20,466.05 L61.58,468.95 L61.96,471.71 L62.34,474.32 L62.73,476.77 L63.11,479.06 L63.49,481.19 L63.88,483.14 L64.26,484.90 L64.64,486.48 L65.02,487.87 L65.41,489.07 L65.79,490.07 L66.17,490.86 L66.55,491.46 L66.94,491.85 L67.32,492.03 L67.70,492.01 L68.09,491.79 L68.47,491.36 L68.85,490.72 L69.23,489.89 L69.62,488.86 L70.00,487.63 L70.38,486.22 L70.77,484.61 L71.15,482.83 L71.53,480.87 L71.91,478.74 L72.30,476.45 L72.68,474.00 L73.06,471.40 L73.45,468.66 L73.83,465.79 L74.21,462.80 L74.59,459.69 L74.98,456.48 L75.36,453.17 L75.74,449.78 L76.12,446.32 L76.51,442.79 L76.89,439.20 L77.27,435.58 L77.66,431.92 L78.04,428.24 L78.42,424.56 L78.80,420.87 L79.19,417.20 L79.57,413.55 L79.95,409.93 L80.34,406.37 L80.72,402.86 L81.10,399.41 L81.48,396.04 L81.87,392.76 L82.25,389.58 L82.63,386.51 L83.02,383.55 L83.40,380.71 L83.78,378.01 L84.16,375.45 L84.55,373.04 L84.93,370.79 L85.31,368.70 L85.70,366.78 L86.08,365.03 L86.46,363.46 L86.84,362.08 L87.23,360.89 L87.61,359.89 L87.99,359.08 L88.38,358.47 L88.76,358.06 L89.14,357.85 L89.52,357.84 L89.91,358.01 L90.29,358.39 L90.67,358.96 L91.05,359.73 L91.44,360.69 L91.82,361.85 L92.20,363.19 L92.59,364.72 L92.97,366.43 L93.35,368.32 L93.73,370.37 L94.12,372.59 L94.50,374.96 L94.88,377.49 L95.27,380.15 L95.65,382.95 L96.03,385.87 L96.41,388.91 L96.80,392.05 L97.18,395.30 L97.56,398.63 L97.95,402.04 L98.33,405.52 L98.71,409.06 L99.09,412.64 L99.48,416.26 L99.86,419.90 L100.24,423.56 L100.62,427.23 L101.01,430.88 L101.39,434.52 L101.77,438.13 L102.16,441.70 L102.54,445.22 L102.92,448.68 L103.30,452.07 L103.69,455.37 L104.07,458.59 L104.45,461.70 L104.84,464.71 L105.22,467.60 L105.60,470.35 L105.98,472.98 L106.37,475.46 L106.75,477.79 L107.13,479.96 L107.52,481.98 L107.90,483.82 L108.28,485.48 L108.66,486.97 L109.05,488.27 L109.43,489.38 L109.81,490.31 L110.20,491.04 L110.58,491.57 L110.96,491.91 L111.34,492.05 L111.73,491.99 L112.11,491.73 L112.49,491.27 L112.88,490.62 L113.26,489.78 L113.64,488.75 L114.02,487.53 L114.41,486.12 L114.79,484.54 L115.17,482.78 L115.55,480.85 L115.94,478.76 L116.32,476.51 L116.70,474.11 L117.09,471.57 L117.47,468.89 L117.85,466.09 L118.23,463.17 L118.62,460.14 L119.00,457.00 L119.38,453.78 L119.77,450.48 L120.15,447.11 L120.53,443.67 L120.91,440.19 L121.30,436.66 L121.68,433.10 L122.06,429.53 L122.45,425.95 L122.83,422.37 L123.21,418.81 L123.59,415.26 L123.98,411.76 L124.36,408.30 L124.74,404.89 L125.12,401.55 L125.51,398.29 L125.89,395.12 L126.27,392.03 L126.66,389.06 L127.04,386.19 L127.42,383.45 L127.80,380.84 L128.19,378.37 L128.57,376.04 L128.95,373.87 L129.34,371.85 L129.72,370.00 L130.10,368.32 L130.48,366.81 L130.87,365.49 L131.25,364.35 L131.63,363.39 L132.02,362.63 L132.40,362.05 L132.78,361.68 L133.16,361.49 L133.55,361.50 L133.93,361.70 L134.31,362.09 L134.70,362.67 L135.08,363.45 L135.46,364.41 L135.84,365.56 L136.23,366.90 L136.61,368.41 L136.99,370.10 L137.38,371.96 L137.76,373.98 L138.14,376.16 L138.52,378.49 L138.91,380.97 L139.29,383.58 L139.67,386.32 L140.05,389.18 L140.44,392.15 L140.82,395.23 L141.20,398.40 L141.59,401.66 L141.97,404.99 L142.35,408.38 L142.73,411.83 L143.12,415.33 L143.50,418.86 L143.88,422.41 L144.27,425.97 L144.65,429.54 L145.03,433.10 L145.41,436.64 L145.80,440.15 L146.18,443.62 L146.56,447.04 L146.95,450.39 L147.33,453.68 L147.71,456.89 L148.09,460.00 L148.48,463.02 L148.86,465.93 L149.24,468.72 L149.62,471.39 L150.01,473.92 L150.39,476.32 L150.77,478.56 L151.16,480.65 L151.54,482.58 L151.92,484.34 L152.30,485.94 L152.69,487.35 L153.07,488.59 L153.45,489.64 L153.84,490.50 L154.22,491.18 L154.60,491.66 L154.98,491.95 L155.37,492.05 L155.75,491.95 L156.13,491.66 L156.52,491.18 L156.90,490.51 L157.28,489.64 L157.66,488.59 L158.05,487.36 L158.43,485.95 L158.81,484.37 L159.20,482.61 L159.58,480.69 L159.96,478.61 L160.34,476.38 L160.73,474.00 L161.11,471.48 L161.49,468.83 L161.88,466.06 L162.26,463.18 L162.64,460.19 L163.02,457.10 L163.41,453.92 L163.79,450.67 L164.17,447.35 L164.55,443.97 L164.94,440.54 L165.32,437.07 L165.70,433.58 L166.09,430.07 L166.47,426.55 L166.85,423.04 L167.23,419.54 L167.62,416.07 L168.00,412.63 L168.38,409.24 L168.77,405.90 L169.15,402.64 L169.53,399.44 L169.91,396.34 L170.30,393.32 L170.68,390.42 L171.06,387.62 L171.45,384.94 L171.83,382.40 L172.21,379.99 L172.59,377.72 L172.98,375.61 L173.36,373.65 L173.74,371.86 L174.12,370.23 L174.51,368.77 L174.89,367.50 L175.27,366.40 L175.66,365.49 L176.04,364.76 L176.42,364.23 L176.80,363.88 L177.19,363.73 L177.57,363.79 L177.95,364.05 L178.34,364.50 L178.72,365.14 L179.10,365.97 L179.48,366.98 L179.87,368.17 L180.25,369.55 L180.63,371.10 L181.02,372.81 L181.40,374.70 L181.78,376.74 L182.16,378.93 L182.55,381.27 L182.93,383.75 L183.31,386.35 L183.70,389.09 L184.08,391.93 L184.46,394.89 L184.84,397.94 L185.23,401.08 L185.61,404.30 L185.99,407.59 L186.38,410.94 L186.76,414.34 L187.14,417.78 L187.52,421.25 L187.91,424.74 L188.29,428.24 L188.67,431.73 L189.05,435.22 L189.44,438.68 L189.82,442.11 L190.20,445.49 L190.59,448.82 L190.97,452.09 L191.35,455.29 L191.73,458.41 L192.12,461.43 L192.50,464.36 L192.88,467.17 L193.27,469.87 L193.65,472.45 L194.03,474.89 L194.41,477.19 L194.80,479.35 L195.18,481.36 L195.56,483.20 L195.95,484.89 L196.33,486.40 L196.71,487.74 L197.09,488.91 L197.48,489.89 L197.86,490.70 L198.24,491.31 L198.62,491.75 L199.01,491.99 L199.39,492.05 L199.77,491.91 L200.16,491.60 L200.54,491.09 L200.92,490.40 L201.30,489.53 L201.69,488.48 L202.07,487.25 L202.45,485.85 L202.84,484.29 L203.22,482.56 L203.60,480.67 L203.98,478.63 L204.37,476.45 L204.75,474.13 L205.13,471.68 L205.52,469.10 L205.90,466.41 L206.28,463.61 L206.66,460.71 L207.05,457.72 L207.43,454.64 L207.81,451.50 L208.20,448.30 L208.58,445.04 L208.96,441.74 L209.34,438.40 L209.73,435.05 L210.11,431.68 L210.49,428.30 L210.88,424.94 L211.26,421.59 L211.64,418.28 L212.02,415.00 L212.41,411.76 L212.79,408.59 L213.17,405.48 L213.55,402.45 L213.94,399.50 L214.32,396.65 L214.70,393.90 L215.09,391.26 L215.47,388.75 L215.85,386.35 L216.23,384.10 L216.62,381.98 L217.00,380.01 L217.38,378.19 L217.77,376.53 L218.15,375.03 L218.53,373.70 L218.91,372.54 L219.30,371.55 L219.68,370.74 L220.06,370.11 L220.45,369.67 L220.83,369.40 L221.21,369.33 L221.59,369.40 L221.98,369.66 L222.36,370.10 L222.74,370.72 L223.12,371.52 L223.51,372.50 L223.89,373.65 L224.27,374.97 L224.66,376.46 L225.04,378.11 L225.42,379.92 L225.80,381.88 L226.19,383.99 L226.57,386.24 L226.95,388.61 L227.34,391.12 L227.72,393.74 L228.10,396.47 L228.48,399.31 L228.87,402.24 L229.25,405.25" stroke="#ff0000"/>
<path d="M45.50,492.05 L45.88,491.95 L46.27,491.64 L46.65,491.14 L47.03,490.43 L47.41,489.52 L47.80,488.42 L48.18,487.13 L48.56,485.65 L48.95,483.98 L49.33,482.13 L49.71,480.12 L50.09,477.93 L50.48,475.58 L50.86,473.08 L51.24,470.43 L51.62,467.64 L52.01,464.73 L52.39,461.69 L52.77,458.54 L53.16,455.28 L53.54,451.94 L53.92,448.51 L54.30,445.00 L54.69,441.44 L55.07,437.82 L55.45,434.16 L55.84,430.48 L56.22,426.77 L56.60,423.05 L56.98,419.34 L57.37,415.65 L57.75,411.98 L58.13,408.34 L58.52,404.75 L58.90,401.22 L59.28,397.76 L59.66,394.38 L60.05,391.09 L60.43,387.90 L60.81,384.81 L61.20,381.85 L61.58,379.01 L61.96,376.30 L62.34,373.74 L62.73,371.33 L63.11,369.08 L63.49,366.99 L63.88,365.08 L64.26,363.34 L64.64,361.78 L65.02,360.41 L65.41,359.23 L65.79,358.25 L66.17,357.46 L66.55,356.87 L66.94,356.49 L67.32,356.30 L67.70,356.36 L68.09,356.64 L68.47,357.12 L68.85,357.80 L69.23,358.68 L69.62,359.76 L70.00,361.03 L70.38,362.49 L70.77,364.13 L71.15,365.95 L71.53,367.94 L71.91,370.10 L72.30,372.43 L72.68,374.90 L73.06,377.53 L73.45,380.29 L73.83,383.18 L74.21,386.20 L74.59,389.32 L74.98,392.55 L75.36,395.88 L75.74,399.29 L76.12,402.77 L76.51,406.31 L76.89,409.91 L77.27,413.55 L77.66,417.22 L78.04,420.91 L78.42,424.61 L78.80,428.30 L79.19,431.99 L79.57,435.65 L79.95,439.27 L80.34,442.85 L80.72,446.37 L81.10,449.83 L81.48,453.21 L81.87,456.50 L82.25,459.70 L82.63,462.79 L83.02,465.77 L83.40,468.62 L83.78,471.34 L84.16,473.92 L84.55,476.36 L84.93,478.64 L85.31,480.75 L85.70,482.71 L86.08,484.48 L86.46,486.08 L86.84,487.50 L87.23,488.73 L87.61,489.77 L87.99,490.62 L88.38,491.27 L88.76,491.73 L89.14,491.99 L89.52,492.05 L89.91,491.91 L90.29,491.57 L90.67,491.04 L91.05,490.31 L91.44,489.39 L91.82,488.28 L92.20,486.99 L92.59,485.51 L92.97,483.86 L93.35,482.03 L93.73,480.04 L94.12,477.89 L94.50,475.59 L94.88,473.14 L95.27,470.55 L95.65,467.83 L96.03,464.99 L96.41,462.04 L96.80,458.98 L97.18,455.82 L97.56,452.58 L97.95,449.27 L98.33,445.89 L98.71,442.45 L99.09,438.97 L99.48,435.46 L99.86,431.92 L100.24,428.37 L100.62,424.81 L101.01,421.27 L101.39,417.74 L101.77,414.24 L102.16,410.79 L102.54,407.38 L102.92,404.03 L103.30,400.76 L103.69,397.57 L104.07,394.46 L104.45,391.46 L104.84,388.57 L105.22,385.79 L105.60,383.14 L105.98,380.62 L106.37,378.24 L106.75,376.01 L107.13,373.94 L107.52,372.03 L107.90,370.28 L108.28,368.70 L108.66,367.31 L109.05,366.09 L109.43,365.05 L109.81,364.21 L110.20,363.55 L110.58,363.08 L110.96,362.81 L111.34,362.73 L111.73,362.82 L112.11,363.10 L112.49,363.57 L112.88,364.23 L113.26,365.08 L113.64,366.11 L114.02,367.33 L114.41,368.73 L114.79,370.31 L115.17,372.05 L115.55,373.96 L115.94,376.03 L116.32,378.26 L116.70,380.63 L117.09,383.14 L117.47,385.78 L117.85,388.55 L118.23,391.43 L118.62,394.42 L119.00,397.50 L119.38,400.68 L119.77,403.94 L120.15,407.26 L120.53,410.65 L120.91,414.08 L121.30,417.56 L121.68,421.06 L122.06,424.59 L122.45,428.12 L122.83,431.64 L123.21,435.16 L123.59,438.65 L123.98,442.11 L124.36,445.52 L124.74,448.88 L125.12,452.18 L125.51,455.40 L125.89,458.54 L126.27,461.58 L126.66,464.52 L127.04,467.35 L127.42,470.06 L127.80,472.65 L128.19,475.10 L128.57,477.41 L128.95,479.57 L129.34,481.57 L129.72,483.41 L130.10,485.09 L130.48,486.59 L130.87,487.92 L131.25,489.07 L131.63,490.03 L132.02,490.81 L132.40,491.40 L132.78,491.80 L133.16,492.02 L133.55,492.03 L133.93,491.86 L134.31,491.50 L134.70,490.95 L135.08,490.21 L135.46,489.28 L135.84,488.17 L136.23,486.89 L136.61,485.42 L136.99,483.79 L137.38,481.99 L137.76,480.03 L138.14,477.92 L138.52,475.66 L138.91,473.26 L139.29,470.72 L139.67,468.06 L140.05,465.28 L140.44,462.40 L140.82,459.41 L141.20,456.33 L141.59,453.16 L141.97,449.93 L142.35,446.63 L142.73,443.28 L143.12,439.88 L143.50,436.45 L143.88,433.00 L144.27,429.54 L144.65,426.07 L145.03,422.62 L145.41,419.18 L145.80,415.77 L146.18,412.41 L146.56,409.09 L146.95,405.83 L147.33,402.64 L147.71,399.53 L148.09,396.51 L148.48,393.59 L148.86,390.77 L149.24,388.07 L149.62,385.48 L150.01,383.03 L150.39,380.72 L150.77,378.55 L151.16,376.54 L151.54,374.68 L151.92,372.98 L152.30,371.45 L152.69,370.09 L153.07,368.91 L153.45,367.91 L153.84,367.09 L154.22,366.46 L154.60,366.01 L154.98,365.75 L155.37,365.68 L155.75,365.80 L156.13,366.11 L156.52,366.61 L156.90,367.29 L157.28,368.16 L157.66,369.21 L158.05,370.44 L158.43,371.84 L158.81,373.41 L159.20,375.15 L159.58,377.05 L159.96,379.10 L160.34,381.31 L160.73,383.65 L161.11,386.13 L161.49,388.74 L161.88,391.47 L162.26,394.30 L162.64,397.24 L163.02,400.28 L163.41,403.40 L163.79,406.60 L164.17,409.86 L164.55,413.18 L164.94,416.54 L165.32,419.95 L165.70,423.38 L166.09,426.82 L166.47,430.27 L166.85,433.72 L167.23,437.15 L167.62,440.55 L168.00,443.92 L168.38,447.25 L168.77,450.52 L169.15,453.73 L169.53,456.86 L169.91,459.91 L170.30,462.86 L170.68,465.72 L171.06,468.46 L171.45,471.08 L171.83,473.58 L172.21,475.95 L172.59,478.18 L172.98,480.26 L173.36,482.18 L173.74,483.95 L174.12,485.55 L174.51,486.99 L174.89,488.25 L175.27,489.34 L175.66,490.25 L176.04,490.97 L176.42,491.51 L176.80,491.87 L177.19,492.04 L177.57,492.02 L177.95,491.81 L178.34,491.42 L178.72,490.84 L179.10,490.08 L179.48,489.14 L179.87,488.03 L180.25,486.73 L180.63,485.27 L181.02,483.64 L181.40,481.85 L181.78,479.91 L182.16,477.82 L182.55,475.58 L182.93,473.21 L183.31,470.71 L183.70,468.08 L184.08,465.35 L184.46,462.51 L184.84,459.57 L185.23,456.54 L185.61,453.44 L185.99,450.26 L186.38,447.03 L186.76,443.74 L187.14,440.42 L187.52,437.07 L187.91,433.69 L188.29,430.31 L188.67,426.93 L189.05,423.55 L189.44,420.20 L189.82,416.88 L190.20,413.60 L190.59,410.37 L190.97,407.20 L191.35,404.10 L191.73,401.08 L192.12,398.15 L192.50,395.31 L192.88,392.58 L193.27,389.97 L193.65,387.47 L194.03,385.10 L194.41,382.87 L194.80,380.79 L195.18,378.85 L195.56,377.06 L195.95,375.44 L196.33,373.98 L196.71,372.69 L197.09,371.57 L197.48,370.63 L197.86,369.86 L198.24,369.28 L198.62,368.88 L199.01,368.67 L199.39,368.64 L199.77,368.79 L200.16,369.13 L200.54,369.65 L200.92,370.35 L201.30,371.24 L201.69,372.30 L202.07,373.53 L202.45,374.93 L202.84,376.50 L203.22,378.23 L203.60,380.11 L203.98,382.15 L204.37,384.33 L204.75,386.64 L205.13,389.09 L205.52,391.66 L205.90,394.35 L206.28,397.14 L206.66,400.03 L207.05,403.01 L207.43,406.08 L207.81,409.21 L208.20,412.41 L208.58,415.66 L208.96,418.96 L209.34,422.29 L209.73,425.64 L210.11,429.01 L210.49,432.38 L210.88,435.74 L211.26,439.09 L211.64,442.41 L212.02,445.69 L212.41,448.93 L212.79,452.11 L213.17,455.23 L213.55,458.27 L213.94,461.23 L214.32,464.10 L214.70,466.87 L215.09,469.53 L215.47,472.07 L215.85,474.48 L216.23,476.77 L216.62,478.92 L217.00,480.92 L217.38,482.77 L217.77,484.46 L218.15,486.00 L218.53,487.37 L218.91,488.57 L219.30,489.59 L219.68,490.44 L220.06,491.12 L220.45,491.61 L220.83,491.92 L221.21,492.05 L221.59,491.99 L221.98,491.75 L222.36,491.34 L222.74,490.74 L223.12,489.96 L223.51,489.01 L223.89,487.88 L224.27,486.58 L224.66,485.12 L225.04,483.50 L225.42,481.72 L225.80,479.79 L226.19,477.72 L226.57,475.51 L226.95,473.16 L227.34,470.69 L227.72,468.11 L228.10,465.41 L228.48,462.62 L228.87,459.73 L229.25,456.75" stroke="#0000ff"/>
</g>
<rect x="45.5" y="351.8" width="183.75" height="140.25" fill="none" stroke="#222" stroke-width="1.05"/>
<path d="M45.50,351.8 v3.3 M45.50,492.05 v-3.3 M76.12,351.8 v3.3 M76.12,492.05 v-3.3 M106.75,351.8 v3.3 M106.75,492.05 v-3.3 M137.38,351.8 v3.3 M137.38,492.05 v-3.3 M168.00,351.8 v3.3 M168.00,492.05 v-3.3 M198.62,351.8 v3.3 M198.62,492.05 v-3.3 M229.25,351.8 v3.3 M229.25,492.05 v-3.3 M45.5,492.05 h3.3 M229.25,492.05 h-3.3 M45.5,464.00 h3.3 M229.25,464.00 h-3.3 M45.5,435.95 h3.3 M229.25,435.95 h-3.3 M45.5,407.90 h3.3 M229.25,407.90 h-3.3 M45.5,379.85 h3.3 M229.25,379.85 h-3.3 M45.5,351.80 h3.3 M229.25,351.80 h-3.3" stroke="#222" stroke-width="0.8" fill="none"/>
<path d="M60.81,351.8 v1.9 M60.81,492.05 v-1.9 M91.44,351.8 v1.9 M91.44,492.05 v-1.9 M122.06,351.8 v1.9 M122.06,492.05 v-1.9 M152.69,351.8 v1.9 M152.69,492.05 v-1.9 M183.31,351.8 v1.9 M183.31,492.05 v-1.9 M213.94,351.8 v1.9 M213.94,492.05 v-1.9 M45.5,478.03 h1.9 M229.25,478.03 h-1.9 M45.5,449.98 h1.9 M229.25,449.98 h-1.9 M45.5,421.93 h1.9 M229.25,421.93 h-1.9 M45.5,393.88 h1.9 M229.25,393.88 h-1.9 M45.5,365.83 h1.9 M229.25,365.83 h-1.9" stroke="#777" stroke-width="0.5" fill="none"/>
<text class="s" x="50.80" y="362.10" font-size="11.4">(c)</text>
<text transform="translate(42.40,495.15) scale(0.925,1)" font-size="9.9" text-anchor="end">0.0</text>
<text transform="translate(42.40,467.10) scale(0.925,1)" font-size="9.9" text-anchor="end">0.2</text>
<text transform="translate(42.40,439.05) scale(0.925,1)" font-size="9.9" text-anchor="end">0.4</text>
<text transform="translate(42.40,411.00) scale(0.925,1)" font-size="9.9" text-anchor="end">0.6</text>
<text transform="translate(42.40,382.95) scale(0.925,1)" font-size="9.9" text-anchor="end">0.8</text>
<text transform="translate(42.40,354.90) scale(0.925,1)" font-size="9.9" text-anchor="end">1.0</text>
<text transform="translate(45.50,502.95) scale(0.95,1)" font-size="9.9" text-anchor="middle">0</text>
<text transform="translate(76.12,502.95) scale(0.95,1)" font-size="9.9" text-anchor="middle">5</text>
<text transform="translate(106.75,502.95) scale(0.95,1)" font-size="9.9" text-anchor="middle">10</text>
<text transform="translate(137.38,502.95) scale(0.95,1)" font-size="9.9" text-anchor="middle">15</text>
<text transform="translate(168.00,502.95) scale(0.95,1)" font-size="9.9" text-anchor="middle">20</text>
<text transform="translate(198.62,502.95) scale(0.95,1)" font-size="9.9" text-anchor="middle">25</text>
<text transform="translate(229.25,502.95) scale(0.95,1)" font-size="9.9" text-anchor="middle">30</text>
<clipPath id="cd"><rect x="244.7" y="351.8" width="183.75" height="140.25"/></clipPath>
<g clip-path="url(#cd)" fill="none" stroke-width="1.85" stroke-linejoin="round">
<path d="M244.70,351.80 L245.08,351.96 L245.47,352.31 L245.85,352.84 L246.23,353.56 L246.61,354.47 L247.00,355.56 L247.38,356.83 L247.76,358.27 L248.15,359.89 L248.53,361.67 L248.91,363.61 L249.29,365.72 L249.68,367.97 L250.06,370.37 L250.44,372.90 L250.82,375.57 L251.21,378.36 L251.59,381.27 L251.97,384.29 L252.36,387.40 L252.74,390.61 L253.12,393.91 L253.50,397.28 L253.89,400.71 L254.27,404.20 L254.65,407.74 L255.04,411.31 L255.42,414.91 L255.80,418.53 L256.18,422.16 L256.57,425.79 L256.95,429.41 L257.33,433.00 L257.72,436.57 L258.10,440.09 L258.48,443.57 L258.86,446.99 L259.25,450.34 L259.63,453.61 L260.01,456.80 L260.40,459.89 L260.78,462.88 L261.16,465.76 L261.54,468.53 L261.93,471.17 L262.31,473.68 L262.69,476.05 L263.07,478.27 L263.46,480.35 L263.84,482.27 L264.22,484.02 L264.61,485.62 L264.99,487.04 L265.37,488.30 L265.75,489.37 L266.14,490.27 L266.52,490.98 L266.90,491.52 L267.29,491.87 L267.67,492.04 L268.05,492.02 L268.43,491.81 L268.82,491.43 L269.20,490.86 L269.58,490.11 L269.97,489.19 L270.35,488.08 L270.73,486.81 L271.11,485.37 L271.50,483.76 L271.88,482.00 L272.26,480.07 L272.65,478.00 L273.03,475.79 L273.41,473.44 L273.79,470.96 L274.18,468.36 L274.56,465.64 L274.94,462.81 L275.32,459.87 L275.71,456.85 L276.09,453.74 L276.47,450.56 L276.86,447.31 L277.24,444.00 L277.62,440.64 L278.00,437.24 L278.39,433.81 L278.77,430.36 L279.15,426.90 L279.54,423.43 L279.92,419.97 L280.30,416.53 L280.68,413.12 L281.07,409.74 L281.45,406.40 L281.83,403.12 L282.22,399.90 L282.60,396.75 L282.98,393.68 L283.36,390.70 L283.75,387.81 L284.13,385.03 L284.51,382.36 L284.90,379.81 L285.28,377.39 L285.66,375.09 L286.04,372.94 L286.43,370.92 L286.81,369.06 L287.19,367.35 L287.57,365.80 L287.96,364.42 L288.34,363.19 L288.72,362.14 L289.11,361.27 L289.49,360.56 L289.87,360.04 L290.25,359.69 L290.64,359.52 L291.02,359.53 L291.40,359.73 L291.79,360.12 L292.17,360.67 L292.55,361.41 L292.93,362.31 L293.32,363.39 L293.70,364.64 L294.08,366.05 L294.47,367.62 L294.85,369.35 L295.23,371.23 L295.61,373.26 L296.00,375.43 L296.38,377.73 L296.76,380.16 L297.15,382.71 L297.53,385.38 L297.91,388.16 L298.29,391.04 L298.68,394.01 L299.06,397.06 L299.44,400.19 L299.82,403.39 L300.21,406.65 L300.59,409.96 L300.97,413.31 L301.36,416.69 L301.74,420.09 L302.12,423.51 L302.50,426.94 L302.89,430.36 L303.27,433.77 L303.65,437.15 L304.04,440.51 L304.42,443.82 L304.80,447.09 L305.18,450.30 L305.57,453.44 L305.95,456.51 L306.33,459.49 L306.72,462.39 L307.10,465.18 L307.48,467.87 L307.86,470.45 L308.25,472.91 L308.63,475.24 L309.01,477.44 L309.40,479.51 L309.78,481.43 L310.16,483.20 L310.54,484.83 L310.93,486.29 L311.31,487.60 L311.69,488.74 L312.07,489.72 L312.46,490.53 L312.84,491.16 L313.22,491.63 L313.61,491.93 L313.99,492.05 L314.37,491.99 L314.75,491.77 L315.14,491.37 L315.52,490.81 L315.90,490.07 L316.29,489.17 L316.67,488.11 L317.05,486.88 L317.43,485.50 L317.82,483.97 L318.20,482.29 L318.58,480.46 L318.97,478.50 L319.35,476.40 L319.73,474.18 L320.11,471.84 L320.50,469.38 L320.88,466.82 L321.26,464.15 L321.65,461.40 L322.03,458.56 L322.41,455.64 L322.79,452.65 L323.18,449.61 L323.56,446.51 L323.94,443.37 L324.32,440.19 L324.71,436.99 L325.09,433.77 L325.47,430.54 L325.86,427.32 L326.24,424.10 L326.62,420.90 L327.00,417.73 L327.39,414.59 L327.77,411.50 L328.15,408.45 L328.54,405.47 L328.92,402.56 L329.30,399.73 L329.68,396.98 L330.07,394.32 L330.45,391.76 L330.83,389.30 L331.22,386.96 L331.60,384.74 L331.98,382.64 L332.36,380.67 L332.75,378.84 L333.13,377.15 L333.51,375.61 L333.90,374.21 L334.28,372.96 L334.66,371.88 L335.04,370.95 L335.43,370.18 L335.81,369.57 L336.19,369.13 L336.57,368.86 L336.96,368.75 L337.34,368.80 L337.72,368.99 L338.11,369.35 L338.49,369.87 L338.87,370.55 L339.25,371.40 L339.64,372.41 L340.02,373.57 L340.40,374.89 L340.79,376.35 L341.17,377.96 L341.55,379.72 L341.93,381.61 L342.32,383.63 L342.70,385.77 L343.08,388.04 L343.47,390.42 L343.85,392.91 L344.23,395.50 L344.61,398.18 L345.00,400.95 L345.38,403.80 L345.76,406.72 L346.15,409.70 L346.53,412.74 L346.91,415.82 L347.29,418.95 L347.68,422.10 L348.06,425.28 L348.44,428.47 L348.82,431.66 L349.21,434.85 L349.59,438.03 L349.97,441.19 L350.36,444.32 L350.74,447.41 L351.12,450.45 L351.50,453.44 L351.89,456.37 L352.27,459.23 L352.65,462.01 L353.04,464.70 L353.42,467.30 L353.80,469.81 L354.18,472.20 L354.57,474.49 L354.95,476.66 L355.33,478.70 L355.72,480.61 L356.10,482.39 L356.48,484.03 L356.86,485.53 L357.25,486.88 L357.63,488.08 L358.01,489.13 L358.40,490.02 L358.78,490.75 L359.16,491.32 L359.54,491.72 L359.93,491.97 L360.31,492.05 L360.69,491.97 L361.07,491.72 L361.46,491.32 L361.84,490.75 L362.22,490.02 L362.61,489.14 L362.99,488.10 L363.37,486.91 L363.75,485.57 L364.14,484.09 L364.52,482.46 L364.90,480.71 L365.29,478.82 L365.67,476.80 L366.05,474.67 L366.43,472.42 L366.82,470.06 L367.20,467.60 L367.58,465.05 L367.97,462.41 L368.35,459.69 L368.73,456.89 L369.11,454.03 L369.50,451.12 L369.88,448.15 L370.26,445.14 L370.65,442.10 L371.03,439.04 L371.41,435.96 L371.79,432.87 L372.18,429.78 L372.56,426.70 L372.94,423.64 L373.32,420.60 L373.71,417.60 L374.09,414.64 L374.47,411.72 L374.86,408.87 L375.24,406.08 L375.62,403.37 L376.00,400.73 L376.39,398.19 L376.77,395.74 L377.15,393.38 L377.54,391.14 L377.92,389.01 L378.30,387.00 L378.68,385.11 L379.07,383.36 L379.45,381.74 L379.83,380.25 L380.22,378.91 L380.60,377.72 L380.98,376.68 L381.36,375.78 L381.75,375.05 L382.13,374.46 L382.51,374.04 L382.90,373.78 L383.28,373.68 L383.66,373.74 L384.04,373.97 L384.43,374.35 L384.81,374.90 L385.19,375.60 L385.57,376.45 L385.96,377.46 L386.34,378.62 L386.72,379.92 L387.11,381.37 L387.49,382.95 L387.87,384.67 L388.25,386.52 L388.64,388.49 L389.02,390.58 L389.40,392.79 L389.79,395.10 L390.17,397.52 L390.55,400.03 L390.93,402.62 L391.32,405.30 L391.70,408.05 L392.08,410.87 L392.47,413.75 L392.85,416.68 L393.23,419.65 L393.61,422.65 L394.00,425.68 L394.38,428.74 L394.76,431.80 L395.15,434.86 L395.53,437.92 L395.91,440.96 L396.29,443.98 L396.68,446.97 L397.06,449.93 L397.44,452.83 L397.82,455.69 L398.21,458.48 L398.59,461.20 L398.97,463.84 L399.36,466.41 L399.74,468.88 L400.12,471.25 L400.50,473.53 L400.89,475.69 L401.27,477.74 L401.65,479.67 L402.04,481.47 L402.42,483.15 L402.80,484.69 L403.18,486.09 L403.57,487.35 L403.95,488.47 L404.33,489.44 L404.72,490.26 L405.10,490.93 L405.48,491.44 L405.86,491.80 L406.25,492.00 L406.63,492.05 L407.01,491.94 L407.40,491.67 L407.78,491.25 L408.16,490.68 L408.54,489.96 L408.93,489.09 L409.31,488.07 L409.69,486.90 L410.07,485.60 L410.46,484.16 L410.84,482.59 L411.22,480.89 L411.61,479.07 L411.99,477.12 L412.37,475.07 L412.75,472.91 L413.14,470.65 L413.52,468.29 L413.90,465.84 L414.29,463.31 L414.67,460.71 L415.05,458.04 L415.43,455.32 L415.82,452.53 L416.20,449.71 L416.58,446.84 L416.97,443.95 L417.35,441.04 L417.73,438.11 L418.11,435.18 L418.50,432.25 L418.88,429.33 L419.26,426.43 L419.65,423.55 L420.03,420.72 L420.41,417.92 L420.79,415.17 L421.18,412.48 L421.56,409.85 L421.94,407.30 L422.32,404.82 L422.71,402.43 L423.09,400.13 L423.47,397.93 L423.86,395.83 L424.24,393.84 L424.62,391.96 L425.00,390.21 L425.39,388.58 L425.77,387.08 L426.15,385.71 L426.54,384.48 L426.92,383.38 L427.30,382.43 L427.68,381.63 L428.07,380.97 L428.45,380.46" stroke="#ff0000"/>
<path d="M244.70,492.05 L245.08,491.96 L245.47,491.69 L245.85,491.23 L246.23,490.60 L246.61,489.79 L247.00,488.80 L247.38,487.64 L247.76,486.31 L248.15,484.82 L248.53,483.16 L248.91,481.34 L249.29,479.37 L249.68,477.25 L250.06,474.99 L250.44,472.60 L250.82,470.08 L251.21,467.43 L251.59,464.67 L251.97,461.80 L252.36,458.83 L252.74,455.77 L253.12,452.62 L253.50,449.40 L253.89,446.11 L254.27,442.77 L254.65,439.37 L255.04,435.94 L255.42,432.48 L255.80,428.99 L256.18,425.50 L256.57,422.00 L256.95,418.51 L257.33,415.04 L257.72,411.59 L258.10,408.18 L258.48,404.82 L258.86,401.51 L259.25,398.26 L259.63,395.08 L260.01,391.99 L260.40,388.98 L260.78,386.07 L261.16,383.26 L261.54,380.57 L261.93,378.00 L262.31,375.55 L262.69,373.23 L263.07,371.06 L263.46,369.03 L263.84,367.15 L264.22,365.43 L264.61,363.87 L264.99,362.47 L265.37,361.24 L265.75,360.19 L266.14,359.30 L266.52,358.60 L266.90,358.07 L267.29,357.73 L267.67,357.56 L268.05,357.63 L268.43,357.92 L268.82,358.38 L269.20,359.02 L269.58,359.85 L269.97,360.84 L270.35,362.01 L270.73,363.35 L271.11,364.85 L271.50,366.51 L271.88,368.34 L272.26,370.31 L272.65,372.43 L273.03,374.69 L273.41,377.08 L273.79,379.60 L274.18,382.24 L274.56,385.00 L274.94,387.86 L275.32,390.82 L275.71,393.87 L276.09,397.00 L276.47,400.21 L276.86,403.48 L277.24,406.81 L277.62,410.19 L278.00,413.60 L278.39,417.04 L278.77,420.50 L279.15,423.98 L279.54,427.45 L279.92,430.92 L280.30,434.37 L280.68,437.79 L281.07,441.17 L281.45,444.52 L281.83,447.81 L282.22,451.03 L282.60,454.19 L282.98,457.26 L283.36,460.25 L283.75,463.15 L284.13,465.94 L284.51,468.62 L284.90,471.19 L285.28,473.63 L285.66,475.94 L286.04,478.11 L286.43,480.15 L286.81,482.03 L287.19,483.77 L287.57,485.35 L287.96,486.77 L288.34,488.03 L288.72,489.12 L289.11,490.04 L289.49,490.79 L289.87,491.36 L290.25,491.77 L290.64,491.99 L291.02,492.05 L291.40,491.92 L291.79,491.63 L292.17,491.16 L292.55,490.52 L292.93,489.70 L293.32,488.73 L293.70,487.58 L294.08,486.28 L294.47,484.82 L294.85,483.21 L295.23,481.45 L295.61,479.55 L296.00,477.51 L296.38,475.34 L296.76,473.04 L297.15,470.63 L297.53,468.10 L297.91,465.47 L298.29,462.74 L298.68,459.92 L299.06,457.02 L299.44,454.04 L299.82,451.00 L300.21,447.90 L300.59,444.75 L300.97,441.56 L301.36,438.34 L301.74,435.10 L302.12,431.85 L302.50,428.59 L302.89,425.33 L303.27,422.09 L303.65,418.87 L304.04,415.68 L304.42,412.53 L304.80,409.43 L305.18,406.38 L305.57,403.40 L305.95,400.50 L306.33,397.67 L306.72,394.93 L307.10,392.29 L307.48,389.75 L307.86,387.33 L308.25,385.01 L308.63,382.82 L309.01,380.76 L309.40,378.84 L309.78,377.05 L310.16,375.40 L310.54,373.91 L310.93,372.57 L311.31,371.38 L311.69,370.35 L312.07,369.48 L312.46,368.78 L312.84,368.24 L313.22,367.87 L313.61,367.67 L313.99,367.63 L314.37,367.75 L314.75,368.03 L315.14,368.47 L315.52,369.08 L315.90,369.85 L316.29,370.79 L316.67,371.88 L317.05,373.14 L317.43,374.54 L317.82,376.09 L318.20,377.79 L318.58,379.63 L318.97,381.60 L319.35,383.70 L319.73,385.93 L320.11,388.28 L320.50,390.73 L320.88,393.29 L321.26,395.95 L321.65,398.70 L322.03,401.53 L322.41,404.44 L322.79,407.41 L323.18,410.45 L323.56,413.54 L323.94,416.67 L324.32,419.83 L324.71,423.02 L325.09,426.23 L325.47,429.45 L325.86,432.66 L326.24,435.87 L326.62,439.07 L327.00,442.23 L327.39,445.37 L327.77,448.46 L328.15,451.50 L328.54,454.48 L328.92,457.40 L329.30,460.24 L329.68,463.00 L330.07,465.67 L330.45,468.25 L330.83,470.72 L331.22,473.08 L331.60,475.33 L331.98,477.46 L332.36,479.45 L332.75,481.32 L333.13,483.05 L333.51,484.64 L333.90,486.08 L334.28,487.37 L334.66,488.51 L335.04,489.50 L335.43,490.32 L335.81,490.99 L336.19,491.50 L336.57,491.84 L336.96,492.02 L337.34,492.04 L337.72,491.89 L338.11,491.58 L338.49,491.11 L338.87,490.48 L339.25,489.69 L339.64,488.74 L340.02,487.64 L340.40,486.40 L340.79,485.00 L341.17,483.47 L341.55,481.79 L341.93,479.98 L342.32,478.05 L342.70,475.99 L343.08,473.82 L343.47,471.53 L343.85,469.14 L344.23,466.65 L344.61,464.07 L345.00,461.41 L345.38,458.67 L345.76,455.87 L346.15,453.00 L346.53,450.08 L346.91,447.11 L347.29,444.11 L347.68,441.08 L348.06,438.02 L348.44,434.96 L348.82,431.89 L349.21,428.83 L349.59,425.78 L349.97,422.75 L350.36,419.75 L350.74,416.79 L351.12,413.87 L351.50,411.01 L351.89,408.21 L352.27,405.48 L352.65,402.83 L353.04,400.26 L353.42,397.78 L353.80,395.39 L354.18,393.11 L354.57,390.94 L354.95,388.89 L355.33,386.96 L355.72,385.15 L356.10,383.48 L356.48,381.94 L356.86,380.54 L357.25,379.29 L357.63,378.18 L358.01,377.22 L358.40,376.42 L358.78,375.76 L359.16,375.27 L359.54,374.93 L359.93,374.75 L360.31,374.73 L360.69,374.85 L361.07,375.12 L361.46,375.55 L361.84,376.14 L362.22,376.88 L362.61,377.78 L362.99,378.82 L363.37,380.02 L363.75,381.35 L364.14,382.83 L364.52,384.44 L364.90,386.19 L365.29,388.06 L365.67,390.05 L366.05,392.17 L366.43,394.39 L366.82,396.71 L367.20,399.14 L367.58,401.66 L367.97,404.26 L368.35,406.94 L368.73,409.69 L369.11,412.51 L369.50,415.38 L369.88,418.30 L370.26,421.26 L370.65,424.25 L371.03,427.26 L371.41,430.29 L371.79,433.33 L372.18,436.37 L372.56,439.40 L372.94,442.42 L373.32,445.41 L373.71,448.37 L374.09,451.28 L374.47,454.15 L374.86,456.96 L375.24,459.71 L375.62,462.39 L376.00,464.99 L376.39,467.50 L376.77,469.92 L377.15,472.25 L377.54,474.47 L377.92,476.58 L378.30,478.57 L378.68,480.44 L379.07,482.19 L379.45,483.81 L379.83,485.29 L380.22,486.63 L380.60,487.83 L380.98,488.88 L381.36,489.79 L381.75,490.55 L382.13,491.15 L382.51,491.60 L382.90,491.90 L383.28,492.04 L383.66,492.02 L384.04,491.85 L384.43,491.52 L384.81,491.05 L385.19,490.41 L385.57,489.63 L385.96,488.70 L386.34,487.62 L386.72,486.40 L387.11,485.04 L387.49,483.55 L387.87,481.93 L388.25,480.17 L388.64,478.30 L389.02,476.31 L389.40,474.21 L389.79,472.00 L390.17,469.70 L390.55,467.30 L390.93,464.81 L391.32,462.25 L391.70,459.61 L392.08,456.91 L392.47,454.15 L392.85,451.34 L393.23,448.49 L393.61,445.60 L394.00,442.69 L394.38,439.76 L394.76,436.82 L395.15,433.87 L395.53,430.93 L395.91,428.00 L396.29,425.09 L396.68,422.21 L397.06,419.37 L397.44,416.58 L397.82,413.83 L398.21,411.15 L398.59,408.53 L398.97,405.98 L399.36,403.52 L399.74,401.14 L400.12,398.86 L400.50,396.68 L400.89,394.60 L401.27,392.63 L401.65,390.79 L402.04,389.06 L402.42,387.46 L402.80,385.99 L403.18,384.65 L403.57,383.46 L403.95,382.40 L404.33,381.49 L404.72,380.73 L405.10,380.11 L405.48,379.64 L405.86,379.33 L406.25,379.17 L406.63,379.16 L407.01,379.31 L407.40,379.61 L407.78,380.06 L408.16,380.66 L408.54,381.41 L408.93,382.30 L409.31,383.34 L409.69,384.52 L410.07,385.84 L410.46,387.29 L410.84,388.88 L411.22,390.59 L411.61,392.41 L411.99,394.36 L412.37,396.42 L412.75,398.58 L413.14,400.84 L413.52,403.19 L413.90,405.64 L414.29,408.16 L414.67,410.75 L415.05,413.42 L415.43,416.14 L415.82,418.91 L416.20,421.73 L416.58,424.58 L416.97,427.47 L417.35,430.37 L417.73,433.29 L418.11,436.21 L418.50,439.14 L418.88,442.05 L419.26,444.94 L419.65,447.81 L420.03,450.65 L420.41,453.44 L420.79,456.19 L421.18,458.88 L421.56,461.51 L421.94,464.07 L422.32,466.55 L422.71,468.95 L423.09,471.26 L423.47,473.47 L423.86,475.58 L424.24,477.58 L424.62,479.48 L425.00,481.25 L425.39,482.90 L425.77,484.43 L426.15,485.83 L426.54,487.09 L426.92,488.21 L427.30,489.20 L427.68,490.04 L428.07,490.74 L428.45,491.29" stroke="#0000ff"/>
</g>
<rect x="244.7" y="351.8" width="183.75" height="140.25" fill="none" stroke="#222" stroke-width="1.05"/>
<path d="M244.70,351.8 v3.3 M244.70,492.05 v-3.3 M275.32,351.8 v3.3 M275.32,492.05 v-3.3 M305.95,351.8 v3.3 M305.95,492.05 v-3.3 M336.57,351.8 v3.3 M336.57,492.05 v-3.3 M367.20,351.8 v3.3 M367.20,492.05 v-3.3 M397.82,351.8 v3.3 M397.82,492.05 v-3.3 M428.45,351.8 v3.3 M428.45,492.05 v-3.3 M244.7,492.05 h3.3 M428.45,492.05 h-3.3 M244.7,464.00 h3.3 M428.45,464.00 h-3.3 M244.7,435.95 h3.3 M428.45,435.95 h-3.3 M244.7,407.90 h3.3 M428.45,407.90 h-3.3 M244.7,379.85 h3.3 M428.45,379.85 h-3.3 M244.7,351.80 h3.3 M428.45,351.80 h-3.3" stroke="#222" stroke-width="0.8" fill="none"/>
<path d="M260.01,351.8 v1.9 M260.01,492.05 v-1.9 M290.64,351.8 v1.9 M290.64,492.05 v-1.9 M321.26,351.8 v1.9 M321.26,492.05 v-1.9 M351.89,351.8 v1.9 M351.89,492.05 v-1.9 M382.51,351.8 v1.9 M382.51,492.05 v-1.9 M413.14,351.8 v1.9 M413.14,492.05 v-1.9 M244.7,478.03 h1.9 M428.45,478.03 h-1.9 M244.7,449.98 h1.9 M428.45,449.98 h-1.9 M244.7,421.93 h1.9 M428.45,421.93 h-1.9 M244.7,393.88 h1.9 M428.45,393.88 h-1.9 M244.7,365.83 h1.9 M428.45,365.83 h-1.9" stroke="#777" stroke-width="0.5" fill="none"/>
<text class="s" x="250.00" y="362.10" font-size="11.4">(d)</text>
<text transform="translate(244.70,502.95) scale(0.95,1)" font-size="9.9" text-anchor="middle">0</text>
<text transform="translate(275.32,502.95) scale(0.95,1)" font-size="9.9" text-anchor="middle">5</text>
<text transform="translate(305.95,502.95) scale(0.95,1)" font-size="9.9" text-anchor="middle">10</text>
<text transform="translate(336.57,502.95) scale(0.95,1)" font-size="9.9" text-anchor="middle">15</text>
<text transform="translate(367.20,502.95) scale(0.95,1)" font-size="9.9" text-anchor="middle">20</text>
<text transform="translate(397.82,502.95) scale(0.95,1)" font-size="9.9" text-anchor="middle">25</text>
<text transform="translate(428.45,502.95) scale(0.95,1)" font-size="9.9" text-anchor="middle">30</text>
<rect x="162.2" y="312.5" width="61.9" height="17.6" fill="#fff" stroke="#8a8a8a" stroke-width="0.9"/><text class="r" transform="translate(166.00,324.00) scale(0.95,1)" font-size="10.9">ρ</text><text class="r" transform="translate(171.90,327.30)" font-size="6.6">Mn</text><text class="r" transform="translate(181.10,324.00) scale(0.95,1)" font-size="10.9">=0.66nm</text>
<rect x="366.6" y="311.9" width="61.9" height="18.2" fill="#fff" stroke="#8a8a8a" stroke-width="0.9"/><text class="r" transform="translate(370.10,323.80) scale(0.95,1)" font-size="10.9">ρ</text><text class="r" transform="translate(376.00,327.10)" font-size="6.6">Mn</text><text class="r" transform="translate(385.20,323.80) scale(0.95,1)" font-size="10.9">=1.0nm</text>
<rect x="161.3" y="465.1" width="62.8" height="18.0" fill="#fff" stroke="#8a8a8a" stroke-width="0.9"/><text class="r" transform="translate(165.30,476.70) scale(0.95,1)" font-size="10.9">ρ</text><text class="r" transform="translate(171.20,480.00)" font-size="6.6">Mn</text><text class="r" transform="translate(180.40,476.70) scale(0.95,1)" font-size="10.9">=0.66nm</text>
<rect x="366.6" y="464.7" width="61.9" height="18.6" fill="#fff" stroke="#8a8a8a" stroke-width="0.9"/><text class="r" transform="translate(369.90,476.80) scale(0.95,1)" font-size="10.9">ρ</text><text class="r" transform="translate(375.80,480.10)" font-size="6.6">Mn</text><text class="r" transform="translate(385.00,476.80) scale(0.95,1)" font-size="10.9">=1.0nm</text>
<rect x="290" y="403.9" width="99.4" height="35.9" fill="#fff" stroke="#8a8a8a" stroke-width="0.9"/>
<path d="M293.4,413.7 H325.9" stroke="#ff0000" stroke-width="1.6"/>
<path d="M293.4,431.8 H325.9" stroke="#0000ff" stroke-width="1.6"/>
<path d="M333.5,406.9 V420.6 M380.9,406.9 L383.6,413.75 L380.9,420.6" stroke="#000" stroke-width="0.7" fill="none"/><path d="M345.6,414.3 H351.1" stroke="#000" stroke-width="0.7" fill="none"/><text class="s" transform="translate(336.5,417.7) scale(0.8,1)" font-size="12.4" font-style="italic">B</text><text class="s" transform="translate(353.0,417.7) scale(0.8,1)" font-size="12.4">2</text><text class="s" transform="translate(358.6,417.7) scale(0.8,1)" font-size="12.4">;</text><text class="s" transform="translate(361.3,417.7) scale(0.8,1)" font-size="12.4">5</text><text class="s" transform="translate(369.2,417.7) scale(0.8,1)" font-size="12.4">/</text><text class="s" transform="translate(375.1,417.7) scale(0.8,1)" font-size="12.4">2</text>
<path d="M333.5,425.0 V438.7 M380.9,425.0 L383.6,431.85 L380.9,438.7" stroke="#000" stroke-width="0.7" fill="none"/><path d="M346.3,432.4 H352.0" stroke="#000" stroke-width="0.7" fill="none"/><text class="s" transform="translate(336.5,435.8) scale(0.8,1)" font-size="12.4" font-style="italic">D</text><text class="s" transform="translate(353.6,435.8) scale(0.8,1)" font-size="12.4">1</text><text class="s" transform="translate(358.2,435.8) scale(0.8,1)" font-size="12.4">;</text><text class="s" transform="translate(361.8,435.8) scale(0.8,1)" font-size="12.4">3</text><text class="s" transform="translate(369.8,435.8) scale(0.8,1)" font-size="12.4">/</text><text class="s" transform="translate(375.3,435.8) scale(0.8,1)" font-size="12.4">2</text>
<text class="s" x="0" y="0" font-size="14.0" text-anchor="middle" transform="translate(13.9,278.8) rotate(-90)">Population</text>
<text class="s" x="0" y="0" font-size="14.0" text-anchor="middle" transform="translate(13.9,431.5) rotate(-90)">Population</text>
<text class="s" x="137.7" y="522.7" font-size="14.2" text-anchor="middle">Time (ps)</text>
<text class="s" x="336.5" y="522.7" font-size="14.2" text-anchor="middle">Time (ps)</text>
</svg></body></html>
